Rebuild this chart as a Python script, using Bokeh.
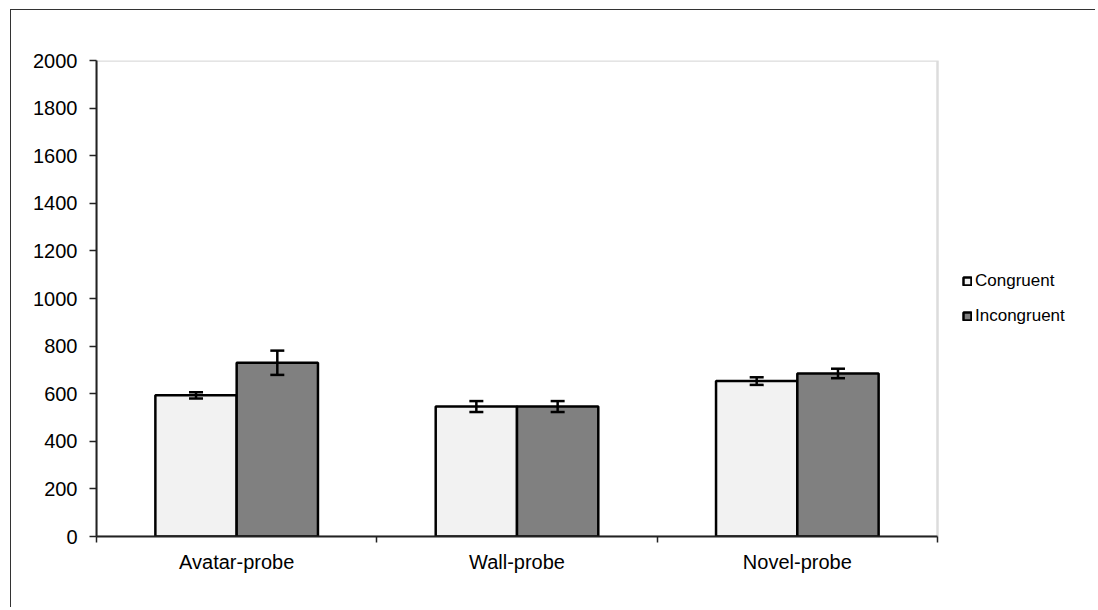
from bokeh.plotting import figure
from bokeh.models import (ColumnDataSource, FixedTicker, Whisker, TeeHead, Legend, LegendItem,
                          Range1d, BoxAnnotation)
from bokeh.embed import file_html
from bokeh.resources import INLINE

# ---- data ----
categories = ["Avatar-probe", "Wall-probe", "Novel-probe"]
series_names = ["Congruent", "Incongruent"]
congruent = [593, 546, 653]
incongruent = [730, 546, 685]
congruent_err = [13, 23, 16]
incongruent_err = [51, 23, 20]
y_ticks = [0, 200, 400, 600, 800, 1000, 1200, 1400, 1600, 1800, 2000]

FONT = "Liberation Sans"
BAR_W = 0.29
OFFSET = 0.145
N = len(categories)
Y_MAX = 2000

idx = list(range(N))
centers = [i + 0.5 for i in idx]
boundaries = list(range(N + 1))

# frame extends into the legend area; plot area (0..N) is 841 px of a 1000 px frame
X_END = N * 1000 / 841

p = figure(output_backend="svg", toolbar_location=None,
           width=1085, height=598,
           min_border_left=85, min_border_top=50, min_border_bottom=72, min_border_right=0,
           x_range=Range1d(0, X_END), y_range=Range1d(0, Y_MAX))
p.margin = (9, 0, 0, 10)
p.styles = {"border-left": "1px solid #333", "border-top": "1px solid #333"}
p.background_fill_color = "white"
p.border_fill_color = "white"
p.grid.visible = False
p.outline_line_color = None

# plot-area border (grey, Excel style)
p.add_layout(BoxAnnotation(left=0, right=N, bottom=0, top=Y_MAX, fill_alpha=0,
                           line_color="#8c8c8c", line_width=2.5, level="underlay"))

src_c = ColumnDataSource(dict(x=[c - OFFSET for c in centers], top=congruent,
                              upper=[v + e for v, e in zip(congruent, congruent_err)],
                              lower=[v - e for v, e in zip(congruent, congruent_err)]))
src_i = ColumnDataSource(dict(x=[c + OFFSET for c in centers], top=incongruent,
                              upper=[v + e for v, e in zip(incongruent, incongruent_err)],
                              lower=[v - e for v, e in zip(incongruent, incongruent_err)]))

r_c = p.vbar(x="x", top="top", bottom=0, width=BAR_W, source=src_c,
             fill_color="#f2f2f2", line_color="black", line_width=2.5)
r_i = p.vbar(x="x", top="top", bottom=0, width=BAR_W, source=src_i,
             fill_color="#808080", line_color="black", line_width=2.5)

for src in (src_c, src_i):
    w = Whisker(base="x", upper="upper", lower="lower", source=src,
                line_color="black", line_width=2.5,
                upper_head=TeeHead(size=14, line_width=2.5, line_color="black"),
                lower_head=TeeHead(size=14, line_width=2.5, line_color="black"))
    w.level = "overlay"
    p.add_layout(w)

# x axis: labels at category centres, ticks at category boundaries
xa = p.xaxis[0]
xa.bounds = (0, N)
xa.ticker = FixedTicker(ticks=centers, minor_ticks=boundaries)
xa.major_label_overrides = {c: name for c, name in zip(centers, categories)}
xa.major_tick_line_color = None
xa.major_tick_out = 6
xa.minor_tick_out = 6
xa.minor_tick_in = 0
xa.minor_tick_line_color = "#222222"
xa.minor_tick_line_width = 1.5
xa.axis_line_color = "#222222"
xa.axis_line_width = 2
xa.major_label_standoff = 8
xa.major_label_text_font = FONT
xa.major_label_text_font_size = "20px"
xa.major_label_text_color = "black"

ya = p.yaxis[0]
ya.ticker = FixedTicker(ticks=y_ticks)
ya.minor_tick_line_color = None
ya.major_tick_out = 7
ya.major_tick_in = 0
ya.major_tick_line_color = "#222222"
ya.major_tick_line_width = 1.5
ya.axis_line_color = "#222222"
ya.axis_line_width = 2
ya.major_label_standoff = 12
ya.major_label_text_font = FONT
ya.major_label_text_font_size = "20px"
ya.major_label_text_color = "black"

legend = Legend(items=[LegendItem(label=series_names[0], renderers=[r_c]),
                       LegendItem(label=series_names[1], renderers=[r_i])],
                location=(866, 210), orientation="vertical",
                border_line_color=None, background_fill_alpha=0,
                padding=0, margin=0, spacing=15,
                glyph_width=10, glyph_height=10, label_height=20,
                label_standoff=3,
                label_text_font=FONT, label_text_font_size="17px",
                label_text_color="black")
p.add_layout(legend, "center")

open("out.html", "w").write(file_html(p, INLINE))
